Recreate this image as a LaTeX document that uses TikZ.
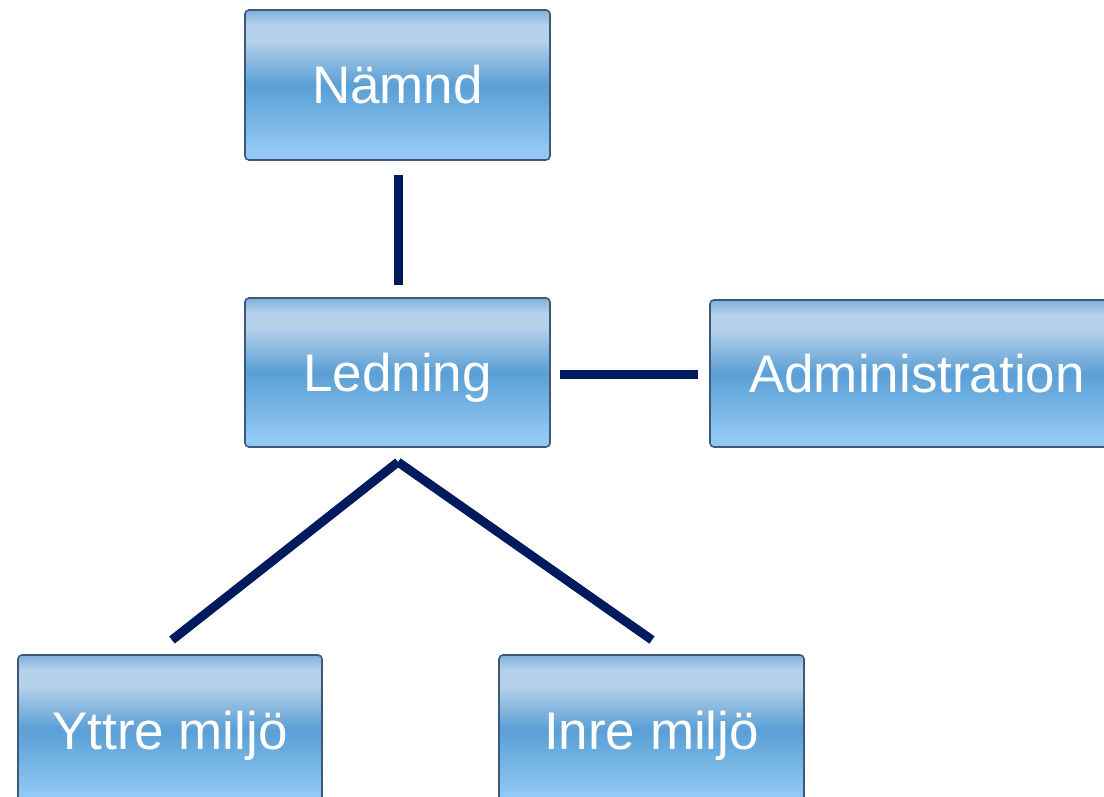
\documentclass[tikz,border=0pt]{standalone}
\usepackage{fontspec}
\setmainfont{Liberation Sans}
\definecolor{lineblue}{HTML}{001A5E}
\definecolor{boxedge}{HTML}{3C5A78}
\definecolor{shtop}{HTML}{7FB0DC}
\definecolor{shlight}{HTML}{B6D1EA}
\definecolor{shmid}{HTML}{5A9FD5}
\definecolor{shbot}{HTML}{92C9F4}
\pgfdeclareverticalshading{boxshade}{100bp}{color(0bp)=(shbot); color(28bp)=(shbot); color(50bp)=(shmid); color(65bp)=(shlight); color(70bp)=(shlight); color(75bp)=(shtop); color(100bp)=(shtop)}
\tikzset{
  orgbox/.style={draw=boxedge, line width=1.6pt, rounded corners=4pt, shading=boxshade,
    text=white, font=\fontsize{53}{60}\selectfont, inner sep=0pt, anchor=center,
    text height=38pt, text depth=0pt},
  link/.style={draw=lineblue, line width=9pt}
}
\begin{document}
\begin{tikzpicture}[x=1pt,y=-1pt]
\useasboundingbox (0,0) rectangle (1104,797);
\node[orgbox, minimum width=305pt, minimum height=150pt] (namnd) at (397.5,85) {Nämnd};
\node[orgbox, minimum width=305pt, minimum height=149pt] (ledning) at (397.5,372.5) {Ledning};
\node[orgbox, minimum width=414pt, minimum height=147pt] (admin) at (917,373.5) {Administration};
\node[orgbox, minimum width=304pt, minimum height=150pt] (yttre) at (170,730) {Yttre miljö};
\node[orgbox, minimum width=305pt, minimum height=150pt] (inre) at (651.5,730) {Inre miljö};
\coordinate (v1) at (398,175);
\coordinate (v2) at (398,285);
\coordinate (h1) at (560,374);
\coordinate (h2) at (698,374);
\coordinate (apex) at (398,462);
\coordinate (lend) at (172,640);
\coordinate (rend) at (652,640);
\draw[link] (v1) -- (v2);
\draw[link] (h1) -- (h2);
\draw[link] (apex) -- (lend);
\draw[link] (apex) -- (rend);
\end{tikzpicture}
\end{document}
